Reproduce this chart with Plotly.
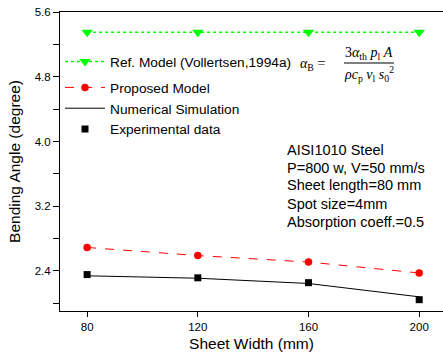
import plotly.graph_objects as go

# ---- data ----
sheet_width = [80, 120, 160, 200]
ref_model = [5.35, 5.35, 5.35, 5.35]
proposed_model = [2.69, 2.59, 2.51, 2.375]
numerical_sim = [2.34, 2.31, 2.245, 2.08]
experimental = [2.355, 2.315, 2.255, 2.045]

x_ticks = [80, 120, 160, 200]
y_ticks = [2.4, 3.2, 4.0, 4.8, 5.6]
y_tick_text = ["2.4", "3.2", "4.0", "4.8", "5.6"]

info_lines = [
    "AISI1010 Steel",
    "P=800 w, V=50 mm/s",
    "Sheet length=80 mm",
    "Spot size=4mm",
    "Absorption coeff.=0.5",
]

FONT = "Arial, Liberation Sans, sans-serif"
SERIF = "Times New Roman, Liberation Serif, serif"

W, H = 443, 354
L, R, T, B = 60, 0, 12, 43
PW, PH = W - L - R, H - T - B


def px(xp):
    return (xp - L) / PW


def py(yp):
    return (H - B - yp) / PH


fig = go.Figure()

fig.add_trace(go.Scatter(
    x=sheet_width, y=ref_model, mode="lines+markers",
    name="Ref. Model (Vollertsen,1994a)",
    line=dict(color="#00ff00", dash="dot", width=1.5),
    marker=dict(symbol="triangle-down", size=10, color="#00ff00"),
    legend="legend", showlegend=True,
))
fig.add_trace(go.Scatter(
    x=sheet_width, y=proposed_model, mode="lines+markers",
    name="Proposed Model",
    line=dict(color="#ff0000", dash="dash", width=1),
    marker=dict(symbol="circle", size=7.5, color="#ff0000"),
    legend="legend2", showlegend=True,
))
fig.add_trace(go.Scatter(
    x=sheet_width, y=numerical_sim, mode="lines",
    name="Numerical Simulation",
    line=dict(color="black", width=1),
    legend="legend2", showlegend=True,
))
fig.add_trace(go.Scatter(
    x=sheet_width, y=experimental, mode="markers",
    name="Experimental data",
    marker=dict(symbol="square", size=7, color="black"),
    legend="legend2", showlegend=True,
))

annotations = []
for i, line in enumerate(info_lines):
    annotations.append(dict(
        text=line, xref="paper", yref="paper",
        x=px(285), y=py(149.5 + 18 * i),
        xanchor="left", yanchor="middle", showarrow=False,
        font=dict(family=FONT, size=14.5, color="black"),
    ))

# formula
annotations.append(dict(
    text="<i>α</i><sub>B</sub> =", xref="paper", yref="paper",
    x=px(298), y=py(64), xanchor="left", yanchor="middle", showarrow=False,
    font=dict(family=SERIF, size=14, color="black"),
))
annotations.append(dict(
    text="3<i>α</i><sub>th</sub> <i>p</i><sub>l</sub> <i>A</i>", xref="paper", yref="paper",
    x=px(369), y=py(53), xanchor="center", yanchor="middle", showarrow=False,
    font=dict(family=SERIF, size=14, color="black"),
))
annotations.append(dict(
    text="<i>ρc</i><sub>p</sub> <i>v</i><sub>l</sub> <i>s</i><sub>0</sub><sup>2</sup>", xref="paper", yref="paper",
    x=px(369), y=py(74), xanchor="center", yanchor="middle", showarrow=False,
    font=dict(family=SERIF, size=14, color="black"),
))

shapes = [dict(type="line", xref="paper", yref="paper",
               x0=px(344), x1=px(394), y0=py(63), y1=py(63),
               line=dict(color="black", width=1))]

fig.update_layout(
    width=W, height=H,
    margin=dict(l=L, r=R, t=T, b=B, pad=0, autoexpand=False),
    paper_bgcolor="white", plot_bgcolor="white",
    font=dict(family=FONT, color="black"),
    annotations=annotations,
    shapes=shapes,
    showlegend=True,
    legend=dict(
        x=px(60), y=py(46), xanchor="left", yanchor="top",
        bgcolor="rgba(0,0,0,0)", font=dict(family=FONT, size=13.7),
        itemwidth=40,
    ),
    legend2=dict(
        x=px(60), y=py(72), xanchor="left", yanchor="top",
        bgcolor="rgba(0,0,0,0)", font=dict(family=FONT, size=13.7),
        itemwidth=40, tracegroupgap=0,
    ),
    xaxis=dict(
        range=[70.2, 208.6], tickvals=x_ticks, automargin=False,
        showline=True, linecolor="black", linewidth=1, mirror=True,
        ticks="outside", ticklen=5, tickcolor="black",
        showgrid=False, zeroline=False,
        tickfont=dict(family=FONT, size=11.5),
        title=dict(text="Sheet Width (mm)", font=dict(family=FONT, size=15.5), standoff=6),
    ),
    yaxis=dict(
        range=[1.905, 5.6], tickvals=y_ticks, ticktext=y_tick_text, automargin=False,
        showline=True, linecolor="black", linewidth=1, mirror=False,
        ticks="outside", ticklen=6, tickcolor="black",
        minor=dict(tickvals=[2.0, 2.8, 3.6, 4.4, 5.2], ticks="outside", ticklen=6, tickcolor="black"),
        showgrid=False, zeroline=False,
        tickfont=dict(family=FONT, size=11.5),
        title=dict(text="Bending Angle (degree)", font=dict(family=FONT, size=15.5), standoff=10),
    ),
)

fig.write_html("out.html", config={"displayModeBar": False},
               post_script="document.body.style.margin='0';")
